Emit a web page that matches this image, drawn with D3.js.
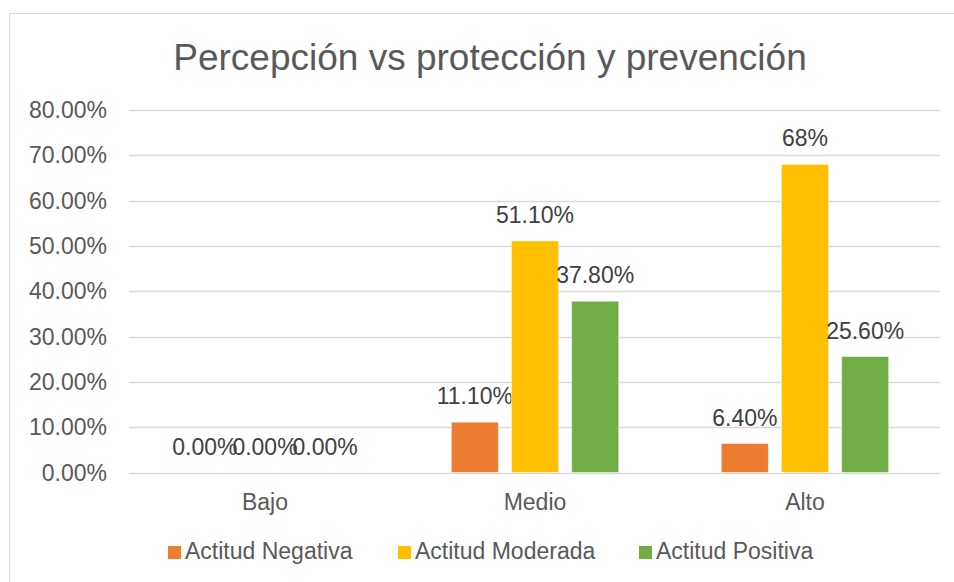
<!DOCTYPE html>
<meta charset="utf-8">
<style>
body { margin: 0; background: #fff; }
text { font-family: "Liberation Sans", Arial, sans-serif; }
</style>
<body>
<script src="https://d3js.org/d3.v7.min.js"></script>
<script>
var categories = ["Bajo", "Medio", "Alto"];
var series = ["Actitud Negativa", "Actitud Moderada", "Actitud Positiva"];
var negativa = [0, 11.1, 6.4];
var moderada = [0, 51.1, 68];
var positiva = [0, 37.8, 25.6];
var negativaLabels = ["0.00%", "11.10%", "6.40%"];
var moderadaLabels = ["0.00%", "51.10%", "68%"];
var positivaLabels = ["0.00%", "37.80%", "25.60%"];
var yTicks = [0, 10, 20, 30, 40, 50, 60, 70, 80];
var colors = ["#ED7D31", "#FFC000", "#70AD47"];

var values = [negativa, moderada, positiva];
var labels = [negativaLabels, moderadaLabels, positivaLabels];

var width = 954, height = 582;

var svg = d3.select("body").append("svg")
    .attr("width", width)
    .attr("height", height);

// chart frame (runs off the right and bottom edges)
svg.append("rect")
    .attr("x", 9.5).attr("y", 13.5)
    .attr("width", 960).attr("height", 600)
    .attr("fill", "#fff")
    .attr("stroke", "#d9d9d9");

svg.append("text")
    .attr("x", 490).attr("y", 70)
    .attr("text-anchor", "middle")
    .attr("font-size", 37)
    .attr("fill", "#595959")
    .text("Percepción vs protección y prevención");

var x0 = d3.scaleBand()
    .domain(categories)
    .range([130, 940])
    .paddingInner(0.38)
    .paddingOuter(0.19);

var x1 = d3.scaleBand()
    .domain(series)
    .range([0, x0.bandwidth()])
    .paddingInner(0.217)
    .paddingOuter(0);

var y = d3.scaleLinear()
    .domain([0, 80])
    .range([472.5, 110]);

// gridlines
svg.append("g")
  .selectAll("line")
  .data(yTicks)
  .enter().append("line")
    .attr("x1", 129).attr("x2", 940)
    .attr("y1", function(d) { return Math.round(y(d)) + 0.5; })
    .attr("y2", function(d) { return Math.round(y(d)) + 0.5; })
    .attr("stroke", "#d9d9d9")
    .attr("stroke-width", 1.3);

// y axis labels
svg.append("g")
  .selectAll("text")
  .data(yTicks)
  .enter().append("text")
    .attr("x", 107)
    .attr("y", function(d) { return y(d) + 8; })
    .attr("text-anchor", "end")
    .attr("font-size", 23)
    .attr("fill", "#595959")
    .text(function(d) { return d.toFixed(2) + "%"; });

// category labels
svg.append("g")
  .selectAll("text")
  .data(categories)
  .enter().append("text")
    .attr("x", function(d) { return x0(d) + x0.bandwidth() / 2; })
    .attr("y", 510)
    .attr("text-anchor", "middle")
    .attr("font-size", 23)
    .attr("fill", "#595959")
    .text(function(d) { return d; });

// bars
series.forEach(function(s, si) {
  var g = svg.append("g");
  g.selectAll("rect")
    .data(categories)
    .enter().append("rect")
      .attr("x", function(d) { return x0(d) + x1(s); })
      .attr("width", x1.bandwidth())
      .attr("y", function(d, i) { return y(values[si][i]); })
      .attr("height", function(d, i) { return y(0) - y(values[si][i]); })
      .attr("fill", colors[si])
      .attr("stroke", "#fff")
      .attr("stroke-opacity", 0.5)
      .attr("stroke-width", 1);
  g.selectAll("text")
    .data(categories)
    .enter().append("text")
      .attr("x", function(d) { return x0(d) + x1(s) + x1.bandwidth() / 2; })
      .attr("y", function(d, i) { return y(values[si][i]) - 18; })
      .attr("text-anchor", "middle")
      .attr("font-size", 23)
      .attr("fill", "#404040")
      .text(function(d, i) { return labels[si][i]; });
});

// legend
var legendX = [168, 398, 639];
var legend = svg.append("g")
  .selectAll("g")
  .data(series)
  .enter().append("g")
    .attr("transform", function(d, i) { return "translate(" + legendX[i] + ",546)"; });
legend.append("rect")
    .attr("width", 13).attr("height", 13)
    .attr("fill", function(d, i) { return colors[i]; });
legend.append("text")
    .attr("x", 17).attr("y", 13)
    .attr("font-size", 23)
    .attr("fill", "#595959")
    .text(function(d) { return d; });
</script>
</body>
